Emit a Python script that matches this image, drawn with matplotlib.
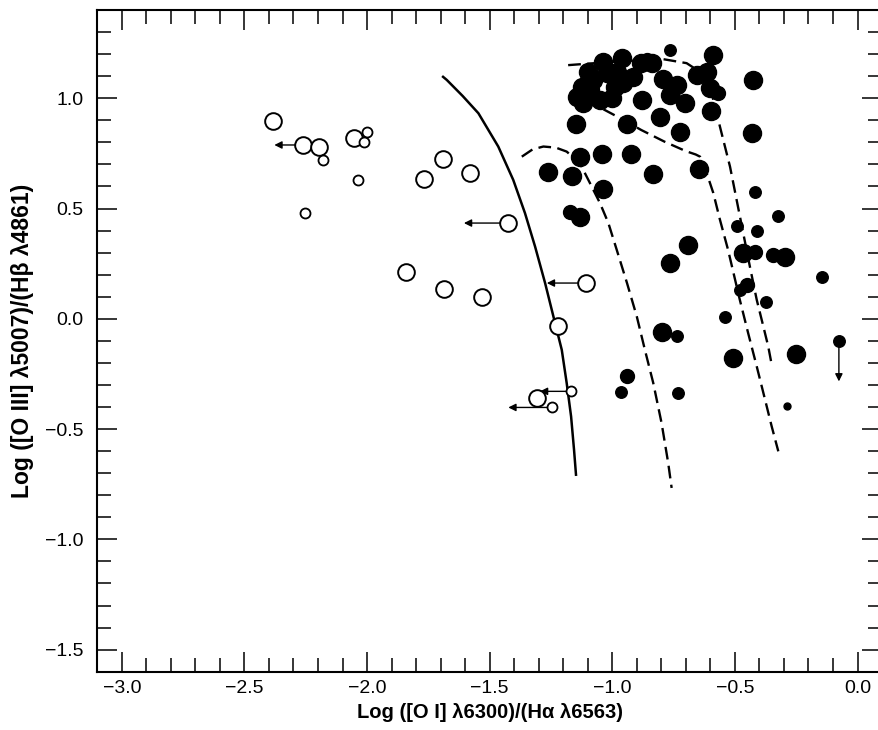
import matplotlib
matplotlib.use("Agg")
import matplotlib.pyplot as plt
from matplotlib.ticker import MultipleLocator

plt.rcParams['font.family'] = ['Liberation Sans', 'DejaVu Sans']

# open circles (large / small)
open_big_x = [-2.382, -2.262, -2.194, -2.052, -1.689, -1.768, -1.580, -1.424,
              -1.842, -1.686, -1.530, -1.108, -1.220, -1.306]
open_big_y = [0.898, 0.788, 0.781, 0.821, 0.725, 0.634, 0.663, 0.434,
              0.210, 0.136, 0.101, 0.162, -0.032, -0.359]
open_small_x = [-2.178, -2.000, -2.013, -2.038, -2.253, -1.168, -1.244]
open_small_y = [0.720, 0.846, 0.800, 0.630, 0.480, -0.329, -0.402]

# filled circles, by size
fill_big_x = [-0.588, -0.425, -0.429, -1.148, -0.941, -0.880, -0.806, -0.724,
              -0.704, -0.765, -0.599, -0.794, -0.839, -0.962, -1.037, -0.615,
              -0.656, -0.601, -1.125, -1.077, -1.023, -1.118, -1.050, -1.003,
              -0.955, -0.914, -0.982, -1.145, -1.091, -1.132, -1.043, -0.924,
              -0.645, -0.833, -1.261, -1.163, -1.037, -1.132, -0.690, -0.765,
              -0.466, -0.296, -0.796, -0.507, -0.251, -0.882, -0.735, -1.100,
              -0.990]
fill_big_y = [1.196, 1.083, 0.841, 0.884, 0.884, 0.992, 0.917, 0.849,
              0.977, 1.015, 0.944, 1.086, 1.159, 1.181, 1.166, 1.121,
              1.106, 1.045, 1.053, 1.083, 1.113, 0.977, 0.992, 1.000,
              1.068, 1.098, 1.121, 1.007, 1.038, 0.735, 0.748, 0.748,
              0.678, 0.657, 0.667, 0.648, 0.589, 0.463, 0.335, 0.252,
              0.298, 0.278, -0.062, -0.178, -0.159, 1.160, 1.060, 1.120,
              1.050]
fill_mid_x = [-0.860, -0.568, -1.172, -0.418, -0.344, -0.452, -0.941]
fill_mid_y = [1.174, 1.023, 0.486, 0.302, 0.290, 0.154, -0.258]
fill_small_x = [-0.765, -0.418, -0.326, -0.493, -0.409, -0.144, -0.479,
                -0.375, -0.539, -0.737, -0.076, -0.966, -0.731]
fill_small_y = [1.219, 0.574, 0.467, 0.421, 0.396, 0.189, 0.131,
                0.074, 0.006, -0.077, -0.100, -0.334, -0.337]
fill_tiny_x = [-0.289]
fill_tiny_y = [-0.397]

# limits: (x0, y0) -> (x1, y1)
limits_left = [(-2.262, 0.788, -2.378), (-1.424, 0.434, -1.605),
               (-1.108, 0.162, -1.267), (-1.168, -0.329, -1.295),
               (-1.244, -0.402, -1.424)]
limits_down = [(-0.076, -0.100, -0.284)]

# model curves
solid_x = [-1.690, -1.675, -1.610, -1.546, -1.465, -1.404, -1.356, -1.315,
           -1.274, -1.240, -1.206, -1.186, -1.168, -1.156, -1.148]
solid_y = [1.097, 1.083, 1.010, 0.932, 0.781, 0.630, 0.479, 0.328,
           0.162, 0.010, -0.141, -0.291, -0.443, -0.594, -0.707]
dash1_x = [-1.369, -1.325, -1.281, -1.230, -1.186, -1.132, -1.091, -1.050,
           -1.016, -0.982, -0.940, -0.900, -0.867, -0.833, -0.799, -0.772,
           -0.758]
dash1_y = [0.735, 0.768, 0.781, 0.776, 0.758, 0.705, 0.615, 0.524,
           0.434, 0.313, 0.162, 0.010, -0.141, -0.291, -0.473, -0.654,
           -0.767]
dash2_x = [-1.100, -1.045, -0.960, -0.882, -0.787, -0.700, -0.660, -0.642,
           -0.615, -0.588, -0.561, -0.528, -0.480, -0.446, -0.411, -0.377,
           -0.350, -0.323]
dash2_y = [1.000, 0.955, 0.905, 0.856, 0.803, 0.760, 0.745, 0.735,
           0.660, 0.570, 0.449, 0.313, 0.086, -0.065, -0.216, -0.367,
           -0.488, -0.601]
dash3_x = [-1.180, -1.084, -0.950, -0.850, -0.792, -0.697, -0.650, -0.615,
           -0.590, -0.575, -0.561, -0.520, -0.493, -0.466, -0.439, -0.411,
           -0.384, -0.364, -0.350]
dash3_y = [1.150, 1.158, 1.168, 1.175, 1.177, 1.159, 1.125, 1.070,
           1.000, 0.935, 0.871, 0.690, 0.539, 0.388, 0.237, 0.086,
           -0.035, -0.126, -0.208]

# 8.781 so the saved width rounds to 878 px
fig = plt.figure(figsize=(8.781, 7.30), dpi=100)
ax = fig.add_axes([0.1108, 0.0799, 0.8937, 0.9064])

dash = (0, (5.4, 2.7))
ax.plot(solid_x, solid_y, '-', color='k', lw=1.8, zorder=2)
ax.plot(dash1_x, dash1_y, color='k', lw=1.7, ls=dash, zorder=2)
ax.plot(dash2_x, dash2_y, color='k', lw=1.7, ls=dash, zorder=2)
ax.plot(dash3_x, dash3_y, color='k', lw=1.7, ls=dash, zorder=2)

for x0, y0, x1 in limits_left:
    ax.annotate("", xy=(x1, y0), xytext=(x0, y0),
                arrowprops=dict(arrowstyle='-|>', color='k', lw=1.0,
                                shrinkA=0, shrinkB=0, mutation_scale=11),
                zorder=1)
for x0, y0, y1 in limits_down:
    ax.annotate("", xy=(x0, y1), xytext=(x0, y0),
                arrowprops=dict(arrowstyle='-|>', color='k', lw=1.0,
                                shrinkA=0, shrinkB=0, mutation_scale=11),
                zorder=1)

ax.plot(open_big_x, open_big_y, 'o', ms=12, mfc='white', mec='k', mew=1.4, zorder=3)
ax.plot(open_small_x, open_small_y, 'o', ms=7.2, mfc='white', mec='k', mew=1.3, zorder=3)
ax.plot(fill_big_x, fill_big_y, 'o', ms=13, color='k', mec='k', zorder=3)
ax.plot(fill_mid_x, fill_mid_y, 'o', ms=10, color='k', mec='k', zorder=3)
ax.plot(fill_small_x, fill_small_y, 'o', ms=8.3, color='k', mec='k', zorder=3)
ax.plot(fill_tiny_x, fill_tiny_y, 'o', ms=5, color='k', mec='k', zorder=3)

ax.set_xlim(-3.1, 0.1)
ax.set_ylim(-1.6, 1.4)
ax.xaxis.set_minor_locator(MultipleLocator(0.1))
ax.yaxis.set_minor_locator(MultipleLocator(0.1))
ax.set_xticks([-3.0, -2.5, -2.0, -1.5, -1.0, -0.5, 0.0])
ax.set_yticks([-1.5, -1.0, -0.5, 0.0, 0.5, 1.0])
ax.set_xticklabels(['\u22123.0', '\u22122.5', '\u22122.0', '\u22121.5',
                    '\u22121.0', '\u22120.5', '0.0'])
ax.set_yticklabels(['\u22121.5', '\u22121.0', '\u22120.5', '0.0', '0.5', '1.0'])
ax.tick_params(which='both', direction='in', top=True, right=True,
               width=1.1, labelsize=14)
ax.tick_params(which='major', length=14.5)
ax.tick_params(which='minor', length=10)
ax.tick_params(axis='x', pad=6)
ax.tick_params(axis='y', pad=10)
for s in ax.spines.values():
    s.set_linewidth(1.5)

ax.set_xlabel('Log ([O I] \u03bb6300)/(H\u03b1 \u03bb6563)', fontsize=14.5,
              fontweight='bold', labelpad=4)
ax.set_ylabel('Log ([O III] \u03bb5007)/(H\u03b2 \u03bb4861)', fontsize=16.5,
              fontweight='bold', labelpad=8)

fig.savefig('out.png', dpi=100)
